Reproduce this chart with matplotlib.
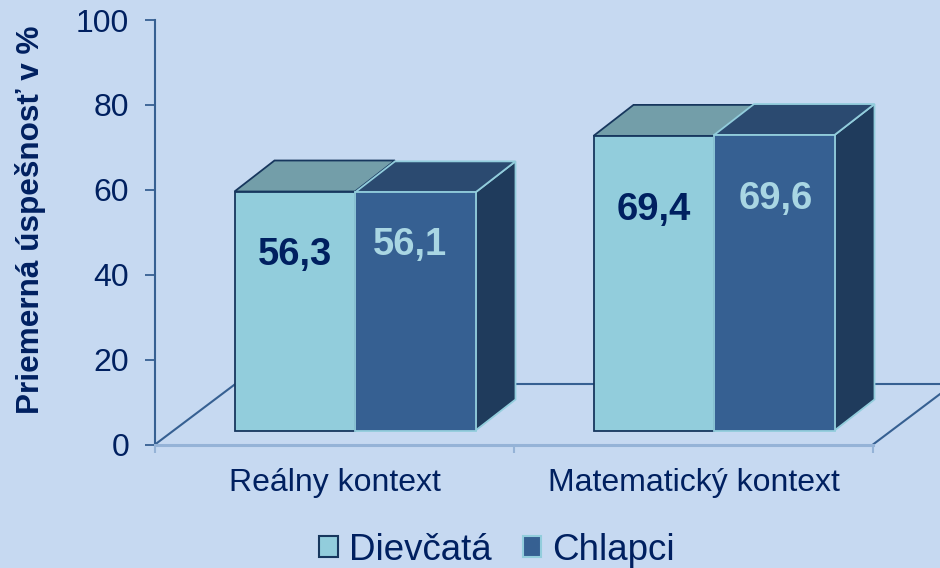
import matplotlib
matplotlib.use("Agg")
import matplotlib.pyplot as plt
from matplotlib.patches import Polygon, Patch

plt.rcParams['font.family'] = ['Liberation Sans', 'DejaVu Sans']

# data
categories = ["Reálny kontext", "Matematický kontext"]
series_names = ["Dievčatá", "Chlapci"]
dievcata = [56.3, 69.4]
chlapci = [56.1, 69.6]
dievcata_labels = ["56,3", "69,4"]
chlapci_labels = ["56,1", "69,6"]
y_ticks = [0, 20, 40, 60, 80, 100]
y_title = "Priemerná úspešnosť v %"

# style
BG = "#C6D9F1"
NAVY = "#002060"
W, H = 940, 568
DX, DY = 40, 31          # 3-D depth in pixels
FRONT_LIFT = 14          # front plane above the axis floor (pixels)
BACK_LIFT = 61           # back edge of the floor above the x axis (pixels)
BAR_W = 120.5 / 359.0    # category units
GAP = 79.5 / 359.0       # category units
LABEL_DROP = {0: [63, 74], 1: [53, 64]}  # label centre below bar top (pixels)
LABEL_SHIFT = {0: [0, 0], 1: [-5, 2]}    # label centre right of bar centre (pixels)

fig = plt.figure(figsize=(W / 100, H / 100), dpi=100, facecolor=BG)
ax = fig.add_axes([155 / W, 1 - 444.5 / H, 718 / W, 424.5 / H], facecolor="none")
ax.set_xlim(0, 2)
ax.set_ylim(0, 100)
ax.set_zorder(10)


def depth_poly(corners, fc, ec, z, lw=1.3):
    """corners: (x data, y data, pixels right, pixels up)"""
    disp = [ax.transData.transform((c[0], c[1])) + (c[2], c[3]) for c in corners]
    p = Polygon(disp, closed=True, facecolor=fc, edgecolor=ec, linewidth=lw,
                transform=None, zorder=z, joinstyle="miter")
    fig.add_artist(p)
    p.set_transform(matplotlib.transforms.IdentityTransform())
    p.set_zorder(z)
    return p


# floor
floor_c = "#366092"
back_y = ax.transData.transform((0, 0))[1] + BACK_LIFT
x0 = ax.transData.transform((0, 0))
x2 = ax.transData.transform((2, 0))
fig.add_artist(plt.Line2D([x0[0] / W, (x0[0] + 81) / W], [x0[1] / H, back_y / H],
                          color=floor_c, lw=1.5, zorder=2))
fig.add_artist(plt.Line2D([x2[0] / W, (x2[0] + 81) / W], [x2[1] / H, back_y / H],
                          color=floor_c, lw=1.5, zorder=2))
fig.add_artist(plt.Line2D([(x0[0] + 81) / W, 1], [back_y / H, back_y / H],
                          color=floor_c, lw=1.5, zorder=2))

styles = [
    dict(front="#92CDDC", top="#739EA9", side="#17375E", edge="#17375E"),
    dict(front="#366092", top="#2B4A70", side="#1F3B5C", edge="#92CDDC"),
]

for i in range(2):
    left = i + GAP
    for s, vals in enumerate([dievcata, chlapci]):
        st = styles[s]
        xl = left + s * BAR_W
        xr = xl + BAR_W
        v = vals[i]
        z = 3 + s
        L = FRONT_LIFT
        depth_poly([(xl, 0, 0, L), (xr, 0, 0, L), (xr, v, 0, L), (xl, v, 0, L)],
                   st["front"], st["edge"], z + 0.2)
        depth_poly([(xl, v, 0, L), (xr, v, 0, L), (xr, v, DX, L + DY), (xl, v, DX, L + DY)],
                   st["top"], st["edge"], z + 0.1)
        if s == 1:
            depth_poly([(xr, 0, 0, L), (xr, 0, DX, L + DY), (xr, v, DX, L + DY), (xr, v, 0, L)],
                       st["side"], st["edge"], z)
        # value label
        txt = (dievcata_labels if s == 0 else chlapci_labels)[i]
        col = NAVY if s == 0 else "#A9D6E3"
        ax.annotate(txt, xy=(xl + BAR_W / 2, v),
                    xytext=(LABEL_SHIFT[s][i] * 0.72, (L - LABEL_DROP[s][i]) * 0.72),
                    textcoords="offset points", ha="center", va="center",
                    fontsize=27.5, fontweight="bold", color=col, zorder=20)

# axes furniture
for name in ("top", "right"):
    ax.spines[name].set_visible(False)
ax.spines["left"].set_color("#366092")
ax.spines["left"].set_linewidth(1.5)
ax.spines["bottom"].set_color("#95B3D7")
ax.spines["bottom"].set_linewidth(2.2)
ax.set_yticks(y_ticks)
ax.set_yticklabels([str(v) for v in y_ticks], fontsize=23, color=NAVY)
ax.tick_params(axis="y", length=7, width=1.3, color="#366092", pad=11.5)
ax.set_xticks([0, 1, 2])
ax.set_xticklabels([])
ax.tick_params(axis="x", length=6, width=1.5, color="#95B3D7")
for i, c in enumerate(categories):
    ax.annotate(c, xy=(i + 0.5, 0), xycoords="data", xytext=(0, -27.5), textcoords="offset points",
                ha="center", va="center", fontsize=23, color=NAVY, annotation_clip=False)
fig.text(31 / W, 1 - 220 / H, y_title, rotation=90, ha="center", va="center",
         fontsize=22.7, fontweight="bold", color=NAVY)

# legend
handles = [Patch(facecolor=styles[0]["front"], edgecolor=styles[0]["edge"], linewidth=1.5),
           Patch(facecolor=styles[1]["front"], edgecolor=styles[1]["edge"], linewidth=1.5)]
fig.legend(handles, series_names, loc="center", bbox_to_anchor=(497 / W, 1 - 550 / H),
           ncol=2, frameon=False, fontsize=26.5, labelcolor=NAVY, handlelength=0.5,
           handleheight=0.5, handletextpad=0.3, columnspacing=0.85, borderpad=0)

fig.savefig("out.png", dpi=100, facecolor=BG)
